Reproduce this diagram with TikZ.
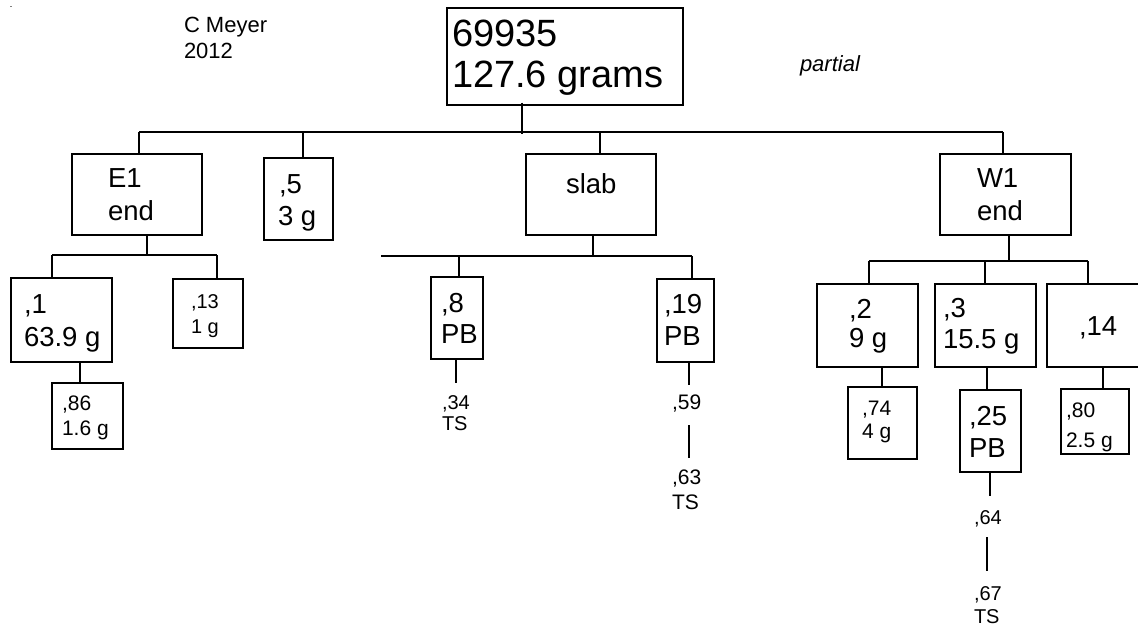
\documentclass[tikz,border=0pt]{standalone}
\usepackage{fontspec}
\setmainfont{Liberation Sans}
\usetikzlibrary{fit}
\begin{document}
\begin{tikzpicture}[x=1pt,y=-1pt,line width=1.2pt,
  box/.style={draw,inner sep=0pt,line width=1.2pt},
  lbl/.style={anchor=base west,inner sep=0pt,outer sep=0pt},
  big/.style={font=\fontsize{38}{41}\selectfont},
  mid/.style={font=\fontsize{27.5}{30}\selectfont},
  sml/.style={font=\fontsize{21}{24}\selectfont},
  tny/.style={font=\fontsize{20}{23}\selectfont}]
\useasboundingbox (0,0) rectangle (1138,626);
\fill[gray] (10,6) rectangle (11.5,7.5);
% free text
\node[lbl,font=\fontsize{22}{25}\selectfont] (cm) at (184,33) {C Meyer};
\node[lbl,font=\fontsize{22}{25}\selectfont] (yr) at (184,59) {2012};
\node[lbl,font=\fontsize{22}{25}\selectfont\itshape] (pa) at (800,72) {partial};
% boxes
\node[box,fit={(447,8) (683,105)}] (top) {};
\node[box,fit={(72,154) (202,235)}] (e1) {};
\node[box,fit={(264,158) (333,240)}] (p5) {};
\node[box,fit={(526,154) (656,235)}] (slab) {};
\node[box,fit={(940,154) (1071,235)}] (w1) {};
\node[box,fit={(11,278) (112,362)}] (p1) {};
\node[box,fit={(173,279) (243,348)}] (p13) {};
\node[box,fit={(52,383) (123,449)}] (p86) {};
\node[box,fit={(431,277) (483,359)}] (p8) {};
\node[box,fit={(657,279) (714,362)}] (p19) {};
\node[box,fit={(817,284) (918,367)}] (p2) {};
\node[box,fit={(935,284) (1036,367)}] (p3) {};
\node[box,fit={(1047,284) (1150,367)}] (p14) {};
\node[box,fit={(848,387) (917,459)}] (p74) {};
\node[box,fit={(960,390) (1021,472)}] (p25) {};
\node[box,fit={(1061,389) (1129,454)}] (p80) {};
% texts
\node[lbl,big] (t1) at (452,47) {69935};
\node[lbl,big] (t2) at (452,88) {127.6 grams};
\node[lbl,mid] (te1a) at (108,187) {E1};
\node[lbl,mid] (te1b) at (108,220) {end};
\node[lbl,mid] (t5a) at (279,193) {,5};
\node[lbl,mid] (t5b) at (278,225) {3 g};
\node[lbl,mid] (tsl) at (566,193) {slab};
\node[lbl,mid] (tw1a) at (977,187) {W1};
\node[lbl,mid] (tw1b) at (977,220) {end};
\node[lbl,mid] (t1a) at (24,313) {,1};
\node[lbl,mid] (t1b) at (24,346) {63.9 g};
\node[lbl,tny] (t13a) at (191,308) {,13};
\node[lbl,tny] (t13b) at (191,333) {1 g};
\node[lbl,sml] (t86a) at (62,410) {,86};
\node[lbl,sml] (t86b) at (62,435) {1.6 g};
\node[lbl,mid] (t8a) at (441,312) {,8};
\node[lbl,mid] (t8b) at (441,343) {PB};
\node[lbl,mid] (t19a) at (664,313) {,19};
\node[lbl,mid] (t19b) at (664,345) {PB};
\node[lbl,tny] (t34a) at (442,409) {,34};
\node[lbl,tny] (t34b) at (442,430) {TS};
\node[lbl,sml] (t59) at (672,409) {,59};
\node[lbl,sml] (t63a) at (672,484) {,63};
\node[lbl,sml] (t63b) at (672,509) {TS};
\node[lbl,mid] (t2a) at (849,318) {,2};
\node[lbl,mid] (t2b) at (849,347) {9 g};
\node[lbl,mid] (t3a) at (943,317) {,3};
\node[lbl,mid] (t3b) at (943,348) {15.5 g};
\node[lbl,mid] (t14) at (1079,335) {,14};
\node[lbl,sml] (t74a) at (862,415) {,74};
\node[lbl,sml] (t74b) at (862,438) {4 g};
\node[lbl,mid] (t25a) at (969,425) {,25};
\node[lbl,mid] (t25b) at (969,457) {PB};
\node[lbl,tny] (t64) at (974,524) {,64};
\node[lbl,tny] (t67a) at (974,600) {,67};
\node[lbl,tny] (t67b) at (974,623) {TS};
\node[lbl,sml] (t80a) at (1066,417) {,80};
\node[lbl,sml] (t80b) at (1066,447) {2.5 g};
% connectors: top level
\coordinate (tj) at (522,132);
\coordinate (barL) at (139,132);
\coordinate (barR) at (1003,132);
\coordinate (d5) at (303,132);
\coordinate (dsl) at (600,132);
\draw ([yshift=3pt]top.south -| tj) -- ([yshift=-2pt]tj);
\draw (barL) -- (barR);
\draw (barL) -- (barL |- e1.north);
\draw (d5) -- (d5 |- p5.north);
\draw (dsl) -- (dsl |- slab.north);
\draw (barR) -- (barR |- w1.north);
% E1 subtree
\coordinate (ej) at (147,255);
\coordinate (ejL) at (52,255);
\coordinate (ejR) at (217,255);
\draw (e1.south -| ej) -- (ej);
\draw (ejL) -- (ejR);
\draw (ejL) -- (ejL |- p1.north);
\draw (ejR) -- (ejR |- p13.north);
\coordinate (c86) at (80,0);
\draw (p1.south -| c86) -- (p86.north -| c86);
% slab subtree
\coordinate (sj) at (593,256);
\coordinate (sjL) at (381,256);
\coordinate (sjR) at (692,256);
\coordinate (s8) at (459,256);
\draw (slab.south -| sj) -- (sj);
\draw (sjL) -- (sjR);
\draw (s8) -- (s8 |- p8.north);
\draw (sjR) -- (sjR |- p19.north);
\coordinate (e34) at (456,383);
\draw (p8.south -| e34) -- (e34);
\coordinate (e59) at (689,385);
\draw (p19.south -| e59) -- (e59);
\coordinate (e59b) at (689,425);
\coordinate (e63) at (689,458);
\draw (e59b) -- (e63);
% W1 subtree
\coordinate (wj) at (1009,261);
\coordinate (wjL) at (869,261);
\coordinate (wjM) at (985,261);
\coordinate (wjR) at (1088,261);
\draw (w1.south -| wj) -- (wj);
\draw (wjL) -- (wjR);
\draw (wjL) -- (wjL |- p2.north);
\draw (wjM) -- (wjM |- p3.north);
\draw (wjR) -- (wjR |- p14.north);
\coordinate (c74) at (882,0);
\draw (p2.south -| c74) -- (p74.north -| c74);
\coordinate (c25) at (987,0);
\draw (p3.south -| c25) -- (p25.north -| c25);
\coordinate (c80) at (1103,0);
\draw (p14.south -| c80) -- (p80.north -| c80);
\coordinate (e64) at (990,496);
\draw (p25.south -| e64) -- (e64);
\coordinate (e64b) at (987,537);
\coordinate (e67) at (987,571);
\draw (e64b) -- (e67);
\end{tikzpicture}
\end{document}
